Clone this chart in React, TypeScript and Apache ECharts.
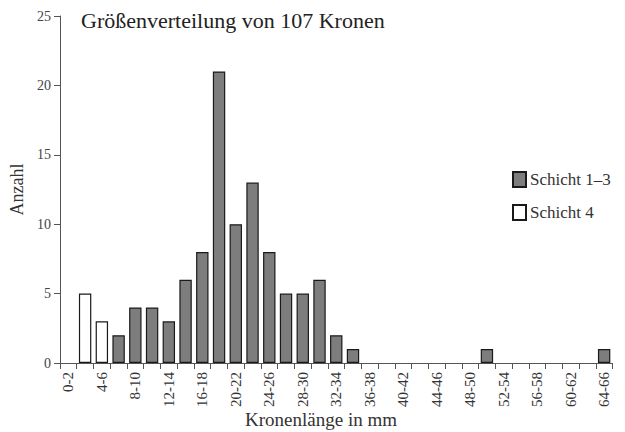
import React, { useEffect, useRef } from "react";
import * as echarts from "echarts";

const categories = [
  "0-2", "2-4", "4-6", "6-8", "8-10", "10-12", "12-14", "14-16", "16-18", "18-20",
  "20-22", "22-24", "24-26", "26-28", "28-30", "30-32", "32-34", "34-36", "36-38", "38-40",
  "40-42", "42-44", "44-46", "46-48", "48-50", "50-52", "52-54", "54-56", "56-58", "58-60",
  "60-62", "62-64", "64-66",
];

const schicht13: (number | null)[] = [
  null, null, null, 2, 4, 4, 3, 6, 8, 21,
  10, 13, 8, 5, 5, 6, 2, 1, null, null,
  null, null, null, null, null, 1, null, null, null, null,
  null, null, 1,
];

const schicht4: (number | null)[] = [
  null, 5, 3, null, null, null, null, null, null, null,
  null, null, null, null, null, null, null, null, null, null,
  null, null, null, null, null, null, null, null, null, null,
  null, null, null,
];

const yTicks = { min: 0, max: 25, interval: 5 };

const titleText = "Größenverteilung von 107 Kronen";
const xName = "Kronenlänge in mm";
const yName = "Anzahl";
const seriesNames = ["Schicht 1–3", "Schicht 4"];

const FONT = "'Liberation Serif', 'DejaVu Serif', serif";

export default function App() {
  const ref = useRef<HTMLDivElement>(null);
  useEffect(() => {
    if (!ref.current) return;
    const chart = echarts.init(ref.current, null, { renderer: "svg" });
    chart.setOption({
      animation: false,
      backgroundColor: "#ffffff",
      textStyle: { fontFamily: FONT },
      title: {
        text: titleText,
        left: 76,
        top: 4,
        textStyle: { fontFamily: FONT, fontSize: 22, fontWeight: "normal", color: "#222" },
      },
      legend: {
        orient: "vertical",
        left: 507,
        top: 166,
        icon: "rect",
        itemWidth: 13,
        itemHeight: 15,
        itemGap: 16,
        textStyle: { fontFamily: FONT, fontSize: 17, color: "#333", padding: [0, 0, 0, -1] },
        data: seriesNames,
      },
      graphic: [
        {
          type: "text",
          left: 245,
          top: 410,
          style: { text: xName, font: `19px ${FONT}`, fill: "#333" },
        },
      ],
      grid: { left: 59.5, right: 12.5, top: 16, bottom: 69, containLabel: false },
      xAxis: {
        type: "category",
        data: categories,
        boundaryGap: true,
        axisLine: { lineStyle: { color: "#555", width: 1 } },
        axisTick: { show: true, interval: 0, length: 6, lineStyle: { color: "#555" } },
        axisLabel: {
          interval: 1,
          rotate: 90,
          fontFamily: FONT,
          fontSize: 15,
          color: "#333",
          margin: 9,
        },
      },
      yAxis: {
        type: "value",
        min: yTicks.min,
        max: yTicks.max,
        interval: yTicks.interval,
        name: yName,
        nameLocation: "middle",
        nameGap: 34,
        nameTextStyle: { fontFamily: FONT, fontSize: 18, color: "#333" },
        axisLine: { show: true, lineStyle: { color: "#555", width: 1 } },
        axisTick: { show: true, length: 6, lineStyle: { color: "#555" } },
        axisLabel: { fontFamily: FONT, fontSize: 14, color: "#444", margin: 9 },
        splitLine: { show: false },
      },
      series: [
        {
          name: seriesNames[0],
          type: "bar",
          data: schicht13,
          barWidth: "74%",
          barGap: "-100%",
          itemStyle: { color: "#7d7d7d", borderColor: "#1a1a1a", borderWidth: 1.2 },
        },
        {
          name: seriesNames[1],
          type: "bar",
          data: schicht4,
          barWidth: "74%",
          barGap: "-100%",
          itemStyle: { color: "#ffffff", borderColor: "#1a1a1a", borderWidth: 1.2 },
        },
      ],
    });
    return () => chart.dispose();
  }, []);
  return (
    <div
      ref={ref}
      style={{ position: "absolute", left: 0, top: 0, width: 625, height: 432 }}
    />
  );
}
